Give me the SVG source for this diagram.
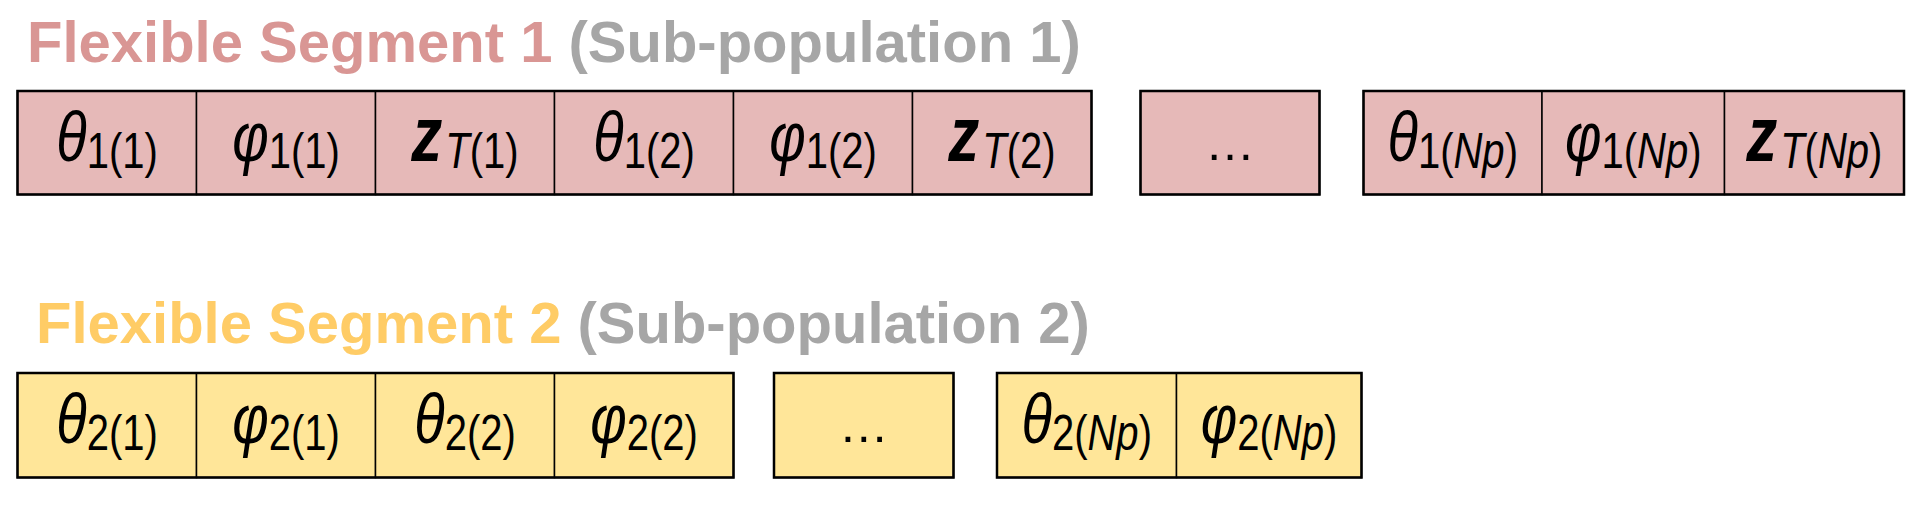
<svg xmlns="http://www.w3.org/2000/svg" width="1923" height="505" viewBox="0 0 1923 505">
<style>
.title{font-family:"Liberation Sans",Arial,sans-serif;font-weight:bold;font-size:58px}
.t1{fill:#D99694}.t2{fill:#FFCC66}.gr{fill:#A6A6A6}
.c1{fill:#E6B9B8;stroke:#000;stroke-width:1.5}
.c2{fill:#FFE699;stroke:#000;stroke-width:1.5}
.frame{fill:none;stroke:#000;stroke-width:2.5}
.lbl{font-family:"Liberation Sans",Arial,sans-serif;font-size:56px;fill:#000;text-anchor:middle}
.dots{font-family:"Liberation Sans",Arial,sans-serif;font-size:50px;fill:#000;text-anchor:middle}
.i{font-style:italic}
.z{font-style:italic;font-weight:bold;font-size:62px}
.s{font-size:40px;font-weight:normal}
</style>
<rect width="1923" height="505" fill="#fff"/>
<g id="title1"><text class="title" x="27" y="62"><tspan class="t1">Flexible Segment 1 </tspan><tspan class="gr">(Sub-population 1)</tspan></text></g>
<g id="title2"><text class="title" x="36" y="342.5"><tspan class="t2">Flexible Segment 2 </tspan><tspan class="gr">(Sub-population 2)</tspan></text></g>

<g id="seg1-theta1"><rect class="c1" x="17.5" y="91" width="179" height="103.5"/><text class="lbl" transform="translate(107,161) scale(1,1.25)"><tspan class="i">θ</tspan><tspan class="s" dy="5.6">1(1)</tspan></text></g>
<g id="seg1-phi1"><rect class="c1" x="196.5" y="91" width="179" height="103.5"/><text class="lbl" transform="translate(286,161) scale(1,1.25)"><tspan class="i">φ</tspan><tspan class="s" dy="5.6">1(1)</tspan></text></g>
<g id="seg1-z1"><rect class="c1" x="375.5" y="91" width="179" height="103.5"/><text class="lbl" transform="translate(465,161) scale(1,1.25)"><tspan class="z">z</tspan><tspan class="s i" dx="3" dy="5.6">T</tspan><tspan class="s">(1)</tspan></text></g>
<g id="seg1-theta2"><rect class="c1" x="554.5" y="91" width="179" height="103.5"/><text class="lbl" transform="translate(644,161) scale(1,1.25)"><tspan class="i">θ</tspan><tspan class="s" dy="5.6">1(2)</tspan></text></g>
<g id="seg1-phi2"><rect class="c1" x="733.5" y="91" width="179" height="103.5"/><text class="lbl" transform="translate(823,161) scale(1,1.25)"><tspan class="i">φ</tspan><tspan class="s" dy="5.6">1(2)</tspan></text></g>
<g id="seg1-z2"><rect class="c1" x="912.5" y="91" width="179" height="103.5"/><text class="lbl" transform="translate(1002,161) scale(1,1.25)"><tspan class="z">z</tspan><tspan class="s i" dx="3" dy="5.6">T</tspan><tspan class="s">(2)</tspan></text></g>
<rect class="frame" x="17.5" y="91" width="1074" height="103.5"/>

<g id="seg1-dots"><rect class="c1" x="1140.5" y="91" width="179" height="103.5"/><rect class="frame" x="1140.5" y="91" width="179" height="103.5"/><text class="dots" x="1230" y="160">…</text></g>

<g id="seg1-thetaNp"><rect class="c1" x="1363.5" y="91" width="178.5" height="103.5"/><text class="lbl" transform="translate(1452.75,161) scale(1,1.25)"><tspan class="i">θ</tspan><tspan class="s" dy="5.6">1(<tspan class="i">Np</tspan>)</tspan></text></g>
<g id="seg1-phiNp"><rect class="c1" x="1542" y="91" width="182.5" height="103.5"/><text class="lbl" transform="translate(1633.25,161) scale(1,1.25)"><tspan class="i">φ</tspan><tspan class="s" dy="5.6">1(<tspan class="i">Np</tspan>)</tspan></text></g>
<g id="seg1-zNp"><rect class="c1" x="1724.5" y="91" width="179.5" height="103.5"/><text class="lbl" transform="translate(1814.25,161) scale(1,1.25)"><tspan class="z">z</tspan><tspan class="s i" dx="3" dy="5.6">T</tspan><tspan class="s">(<tspan class="i">Np</tspan>)</tspan></text></g>
<rect class="frame" x="1363.5" y="91" width="540.5" height="103.5"/>

<g id="seg2-theta1"><rect class="c2" x="17.5" y="373" width="179" height="104.5"/><text class="lbl" transform="translate(107,443) scale(1,1.25)"><tspan class="i">θ</tspan><tspan class="s" dy="5.6">2(1)</tspan></text></g>
<g id="seg2-phi1"><rect class="c2" x="196.5" y="373" width="179" height="104.5"/><text class="lbl" transform="translate(286,443) scale(1,1.25)"><tspan class="i">φ</tspan><tspan class="s" dy="5.6">2(1)</tspan></text></g>
<g id="seg2-theta2"><rect class="c2" x="375.5" y="373" width="179" height="104.5"/><text class="lbl" transform="translate(465,443) scale(1,1.25)"><tspan class="i">θ</tspan><tspan class="s" dy="5.6">2(2)</tspan></text></g>
<g id="seg2-phi2"><rect class="c2" x="554.5" y="373" width="179" height="104.5"/><text class="lbl" transform="translate(644,443) scale(1,1.25)"><tspan class="i">φ</tspan><tspan class="s" dy="5.6">2(2)</tspan></text></g>
<rect class="frame" x="17.5" y="373" width="716" height="104.5"/>

<g id="seg2-dots"><rect class="c2" x="774" y="373" width="179.5" height="104.5"/><rect class="frame" x="774" y="373" width="179.5" height="104.5"/><text class="dots" x="863.75" y="442">…</text></g>

<g id="seg2-thetaNp"><rect class="c2" x="997" y="373" width="179.5" height="104.5"/><text class="lbl" transform="translate(1086.75,443) scale(1,1.25)"><tspan class="i">θ</tspan><tspan class="s" dy="5.6">2(<tspan class="i">Np</tspan>)</tspan></text></g>
<g id="seg2-phiNp"><rect class="c2" x="1176.5" y="373" width="185" height="104.5"/><text class="lbl" transform="translate(1269,443) scale(1,1.25)"><tspan class="i">φ</tspan><tspan class="s" dy="5.6">2(<tspan class="i">Np</tspan>)</tspan></text></g>
<rect class="frame" x="997" y="373" width="364.5" height="104.5"/>

<g id="connectors"></g>
</svg>
